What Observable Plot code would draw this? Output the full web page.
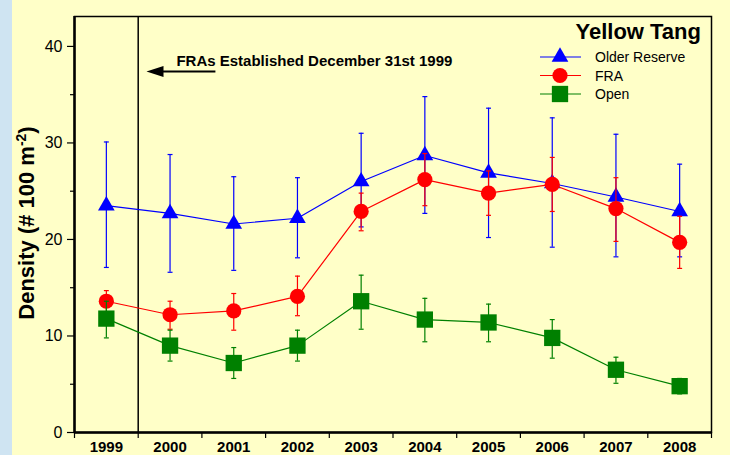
<!DOCTYPE html>
<html><head><meta charset="utf-8">
<script src="https://cdn.jsdelivr.net/npm/d3@7"></script>
<script src="https://cdn.jsdelivr.net/npm/@observablehq/plot@0.6"></script>
<style>
html,body{margin:0;padding:0;background:#FFFFC8;width:730px;height:455px;overflow:hidden}
#strip{position:absolute;left:0;top:0;width:12px;height:455px;background:#CFE4F2}
#chart{position:absolute;left:0;top:0}
</style></head><body><div id="strip"></div><div id="chart"></div>
<script>
const years = [1999, 2000, 2001, 2002, 2003, 2004, 2005, 2006, 2007, 2008];
const seriesNames = ["Older Reserve", "FRA", "Open"];
const reserveMean = [23.5, 22.7, 21.6, 22.2, 26.0, 28.7, 26.9, 25.8, 24.4, 22.9];
const reserveHi   = [30.1, 28.8, 26.5, 26.4, 31.0, 34.8, 33.6, 32.6, 30.9, 27.8];
const reserveLo   = [17.1, 16.6, 16.8, 18.1, 21.3, 22.7, 20.2, 19.2, 18.2, 18.2];
const fraMean = [13.6, 12.2, 12.6, 14.1, 22.9, 26.2, 24.8, 25.7, 23.2, 19.7];
const fraHi   = [14.7, 13.6, 14.4, 16.2, 24.8, 28.9, 27.1, 28.5, 26.4, 22.4];
const fraLo   = [12.5, 10.7, 10.6, 12.1, 20.9, 23.5, 22.5, 22.9, 19.8, 17.0];
const openMean = [11.8, 9.0, 7.2, 9.0, 13.6, 11.7, 11.4, 9.8, 6.5, 4.8];
const openHi   = [13.6, 10.6, 8.8, 10.6, 16.3, 13.9, 13.3, 11.7, 7.8, 5.6];
const openLo   = [9.8, 7.4, 5.6, 7.4, 10.7, 9.4, 9.4, 7.7, 5.1, 4.0];
const yMajorTicks = [0, 10, 20, 30, 40];
const yMinorTicks = [5, 15, 25, 35];
const establishedYear = 1999.5;
const noteText = "FRAs Established December 31st 1999";
const titleText = "Yellow Tang";

const colors = {"Older Reserve": "#0000FF", "FRA": "#FF0000", "Open": "#008000"};
const symbols = {"Older Reserve": "triangle", "FRA": "circle", "Open": "square"};
const radii = {"Older Reserve": 6.2, "FRA": 7.6, "Open": 9.2};

function rows(name, mean, lo, hi) {
  return years.map((y, i) => ({series: name, year: y, value: mean[i], lo: lo[i], hi: hi[i]}));
}
const data = {
  "Older Reserve": rows("Older Reserve", reserveMean, reserveLo, reserveHi),
  "FRA": rows("FRA", fraMean, fraLo, fraHi),
  "Open": rows("Open", openMean, openLo, openHi)
};

const capSymbol = {draw(ctx, size) { const w = Math.sqrt(size) / 2; ctx.moveTo(-w, 0); ctx.lineTo(w, 0); }};
const arrowHead = {draw(ctx) { ctx.moveTo(0, 0); ctx.lineTo(17, -5.5); ctx.lineTo(17, 5.5); ctx.closePath(); }};

const halfYears = d3.range(1998.5, 2009, 1);
const font = "'Liberation Sans', Arial, sans-serif";

const seriesMarks = seriesNames.flatMap(name => {
  const c = colors[name];
  const d = data[name];
  return [
    Plot.ruleX(d, {x: "year", y1: "lo", y2: "hi", stroke: c, strokeWidth: 1.2}),
    Plot.dot(d, {x: "year", y: "hi", symbol: capSymbol, r: 2.8, stroke: c, strokeWidth: 1.2, fill: "none"}),
    Plot.dot(d, {x: "year", y: "lo", symbol: capSymbol, r: 2.8, stroke: c, strokeWidth: 1.2, fill: "none"}),
    Plot.line(d, {x: "year", y: "value", stroke: c, strokeWidth: 1.2}),
    Plot.dot(d, {x: "year", y: "value", symbol: symbols[name], r: radii[name], fill: c, stroke: "none"})
  ];
});

const chart = Plot.plot({
  width: 730, height: 455,
  marginLeft: 74, marginRight: 19, marginTop: 16, marginBottom: 23,
  style: {background: "transparent", fontFamily: font, color: "black"},
  x: {domain: [1998.5, 2008.5]},
  y: {domain: [0, 43.1]},
  marks: [
    Plot.axisY({ticks: yMajorTicks, tickSize: 7, tickPadding: 5, fontSize: 16, label: null, strokeWidth: 1.2}),
    Plot.axisY({ticks: yMinorTicks, tickSize: 4, tickFormat: () => "", label: null, strokeWidth: 1.2}),
    Plot.axisX({ticks: halfYears, tickSize: 6, tickFormat: () => "", label: null, strokeWidth: 1.2}),
    Plot.axisX({ticks: years, tickSize: 0, tickPadding: 9, tickFormat: d => String(d), fontSize: 15, fontWeight: "bold", label: null}),
    Plot.frame({stroke: "black", strokeWidth: 1.5}),
    Plot.ruleX([1998.5], {stroke: "black", strokeWidth: 2.5}),
    Plot.ruleY([0], {stroke: "black", strokeWidth: 2.5}),
    Plot.ruleX([establishedYear], {stroke: "black", strokeWidth: 1.5}),
    Plot.ruleY([37.4], {x1: 1999.88, x2: 2000.72, stroke: "black", strokeWidth: 2}),
    Plot.dot([37.4], {x: 1999.63, y: d => d, symbol: arrowHead, r: 5, fill: "black", stroke: "none"}),
    Plot.text([noteText], {x: 2000.1, y: 38.5, text: d => d, textAnchor: "start", fontSize: 15, fontWeight: "bold"}),
    ...seriesMarks
  ]
});
document.getElementById("chart").appendChild(chart);

const svg = d3.select(chart);
// Y label
const yl = svg.append("text")
  .attr("transform", "translate(34,223) rotate(-90)")
  .attr("text-anchor", "middle")
  .attr("font-family", font).attr("font-size", 22).attr("font-weight", "bold").attr("fill", "black");
yl.append("tspan").text("Density (# 100 m");
yl.append("tspan").attr("dy", -8).attr("font-size", 14).text("-2");
yl.append("tspan").attr("dy", 8).text(")");

// Title
svg.append("text").attr("x", 701).attr("y", 39).attr("text-anchor", "end")
  .attr("font-family", font).attr("font-size", 22).attr("font-weight", "bold").attr("fill", "black").text(titleText);

// Legend
const legendY = [57, 75.5, 94];
const d3sym = {"Older Reserve": d3.symbolTriangle, "FRA": d3.symbolCircle, "Open": d3.symbolSquare};
seriesNames.forEach((name, i) => {
  const g = svg.append("g").attr("transform", `translate(0,${legendY[i]})`);
  g.append("line").attr("x1", 540).attr("x2", 581).attr("y1", 0).attr("y2", 0).attr("stroke", colors[name]).attr("stroke-width", 1.2);
  g.append("path").attr("transform", "translate(560,0)")
    .attr("d", d3.symbol(d3sym[name], Math.PI * radii[name] * radii[name])())
    .attr("fill", colors[name]);
  g.append("text").attr("x", 595).attr("y", 5).attr("text-anchor", "start")
    .attr("font-family", font).attr("font-size", 14).attr("fill", "black").text(name);
});
</script></body></html>
